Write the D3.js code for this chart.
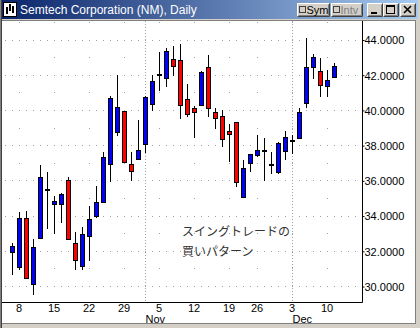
<!DOCTYPE html>
<html>
<head>
<meta charset="utf-8">
<script src="https://cdn.jsdelivr.net/npm/d3@7"></script>
<style>
  body { margin: 0; background: #d4d0c8; }
  svg { display: block; }
  .axis text { font-family: "Liberation Sans", Arial, sans-serif; font-size: 11px; fill: #000; }
</style>
</head>
<body>
<div id="chart"></div>
<script>

// Daily bars, Semtech Oct 5 - Dec 11 2001 (Thanksgiving skipped)
var dates = ["10/05","10/08","10/09","10/10","10/11","10/12","10/15","10/16","10/17","10/18",
  "10/19","10/22","10/23","10/24","10/25","10/26","10/29","10/30","10/31","11/01",
  "11/02","11/05","11/06","11/07","11/08","11/09","11/12","11/13","11/14","11/15",
  "11/16","11/19","11/20","11/21","11/23","11/26","11/27","11/28","11/29","11/30",
  "12/03","12/04","12/05","12/06","12/07","12/10","12/11"];

var opens  = [31.95,31.08,33.88,30.13,32.75,35.49,34.71,34.71,36.04,32.48,
  31.19,32.84,34.03,34.82,36.95,38.80,39.95,36.95,37.23,38.11,
  40.35,42.03,41.86,42.90,42.85,40.67,40.12,40.29,42.45,39.90,
  39.67,38.82,39.33,35.11,37.00,37.46,37.72,36.92,36.53,37.72,
  38.28,38.42,40.41,42.45,42.26,41.37,41.92];
var highs  = [32.48,34.24,34.30,32.71,36.91,36.51,35.15,35.33,36.22,33.10,
  33.39,34.58,35.71,37.64,40.82,42.01,39.98,37.63,39.46,40.80,
  42.01,43.30,43.55,43.66,43.77,41.50,40.25,42.22,43.15,40.12,
  40.03,39.23,39.35,37.17,37.51,38.59,38.42,37.63,38.21,38.84,
  38.59,40.12,44.11,43.21,42.96,42.30,42.69];
var lows   = [30.66,30.95,30.44,29.53,32.71,33.27,33.01,33.63,32.68,30.91,
  30.95,31.47,33.91,34.78,35.94,38.55,37.00,36.00,37.20,37.57,
  39.99,41.11,41.35,41.97,39.52,39.65,38.46,40.27,39.65,38.93,
  37.94,37.09,35.67,35.05,36.53,37.34,36.00,36.41,36.41,37.21,
  37.55,38.38,40.16,41.80,40.78,40.78,41.86];
var closes = [32.29,33.88,30.51,32.23,36.21,35.49,34.86,35.26,32.72,31.53,
  32.97,33.82,34.79,37.36,40.69,40.18,37.09,36.55,37.74,40.75,
  41.65,42.03,43.36,42.51,40.29,39.78,39.90,42.17,40.12,39.56,
  38.38,38.65,35.96,36.72,37.51,37.74,37.72,36.92,38.14,38.48,
  38.28,39.91,42.45,43.02,41.43,41.71,42.51];

// axis labels
var weekDates  = ["10/08","10/15","10/22","10/29","11/05","11/12","11/19","11/26","12/03","12/10"];
var weekLabels = ["8","15","22","29","5","12","19","26","3","10"];
var monthDates  = ["11/01","12/03"];
var monthLabels = ["Nov","Dec"];
var priceTicks = [30, 32, 34, 36, 38, 40, 42, 44];

var svgWidth = 420;
var svgHeight = 328;
var plot = { left: 2, top: 21, right: 362.5, bottom: 302.5 };

var svg = d3.select("#chart")
  .append("svg")
  .attr("width", svgWidth)
  .attr("height", svgHeight);

var x = d3.scalePoint()
  .domain(dates)
  .range([12.5, 334.5]);
var step = x.step();

var y = d3.scaleLinear()
  .domain([30, 44])
  .range([286.5, 40]);

// window frame
svg.append("rect").attr("width", svgWidth).attr("height", svgHeight).attr("fill", "#d4d0c8");
svg.append("rect").attr("x", 0).attr("y", 0).attr("width", 1).attr("height", svgHeight).attr("fill", "#808080");
svg.append("rect").attr("x", 1).attr("y", 0).attr("width", 1).attr("height", svgHeight).attr("fill", "#404040");
svg.append("rect")
  .attr("x", 2).attr("y", 20)
  .attr("width", 413).attr("height", 303)
  .attr("fill", "#fff");
svg.append("line")
  .attr("x1", 2).attr("x2", 415).attr("y1", 20.5).attr("y2", 20.5)
  .attr("stroke", "#808080");
svg.append("line")
  .attr("x1", 2).attr("x2", 416).attr("y1", 323.5).attr("y2", 323.5)
  .attr("stroke", "#808080");
svg.append("line")
  .attr("x1", 415.5).attr("x2", 415.5).attr("y1", 20).attr("y2", 324)
  .attr("stroke", "#808080");

// title bar
var grad = svg.append("defs").append("linearGradient").attr("id", "tb");
grad.append("stop").attr("offset", "0%").attr("stop-color", "#0a246a");
grad.append("stop").attr("offset", "100%").attr("stop-color", "#a6caf0");
svg.append("rect")
  .attr("x", 2).attr("y", 0)
  .attr("width", 416).attr("height", 19)
  .attr("fill", "url(#tb)");

// little window icon
var icon = svg.append("g").attr("transform", "translate(3,2)");
icon.append("rect").attr("width", 14).attr("height", 15).attr("fill", "#000");
icon.append("rect").attr("x", 1).attr("y", 1).attr("width", 12).attr("height", 13).attr("fill", "#fff");
[[3, 5, 12], [6, 2, 9], [9, 4, 11]].forEach(function(b) {
  icon.append("rect").attr("x", b[0]).attr("y", b[1]).attr("width", 2).attr("height", b[2] - b[1]).attr("fill", "#000");
});

svg.append("text")
  .attr("x", 20).attr("y", 14)
  .attr("font-family", "Liberation Sans, Arial, sans-serif")
  .attr("font-size", "12px")
  .attr("fill", "#fff")
  .text("Semtech Corporation (NM), Daily");

// raised Win2k buttons
function button(x0, w, label, grey, box) {
  var g = svg.append("g").attr("transform", `translate(${x0},3)`);
  g.append("rect").attr("width", w).attr("height", 14).attr("fill", "#d4d0c8");
  g.append("path").attr("d", `M0.5,13.5V0.5H${w - 0.5}`).attr("stroke", "#fff").attr("fill", "none");
  g.append("path").attr("d", `M0.5,13.5H${w - 0.5}V0.5`).attr("stroke", "#404040").attr("fill", "none");
  g.append("path").attr("d", `M1.5,12.5H${w - 1.5}V1.5`).attr("stroke", "#808080").attr("fill", "none");
  var tx = 3;
  if (box) {
    g.append("rect").attr("x", 2.5).attr("y", 3.5).attr("width", 6).attr("height", 6)
      .attr("fill", "#d4d0c8").attr("stroke", "#404040");
    tx = 9.5;
  }
  if (label) {
    g.append("text")
      .attr("x", tx).attr("y", 11)
      .attr("font-family", "Liberation Sans, Arial, sans-serif")
      .attr("font-size", "11px")
      .attr("fill", grey ? "#808080" : "#000")
      .text(label);
  }
  return g;
}
button(297, 33, "Sym", false, true);
button(331, 32, "Intv", true, true);
var bMin = button(367, 16);
bMin.append("rect").attr("x", 4).attr("y", 9).attr("width", 6).attr("height", 2).attr("fill", "#000");
var bMax = button(383, 16);
bMax.append("rect").attr("x", 3.5).attr("y", 2.5).attr("width", 8).attr("height", 8)
  .attr("fill", "none").attr("stroke", "#000");
bMax.append("rect").attr("x", 3).attr("y", 2).attr("width", 9).attr("height", 2).attr("fill", "#000");
var bClose = button(400, 16);
bClose.append("path").attr("d", "M4,3L11,10M11,3L4,10").attr("stroke", "#000").attr("stroke-width", 1.6);

// dotted grid: every bar on even prices, Mondays only on odd prices
var gridGroup = svg.append("g").attr("fill", "#a0a0a0");
var x0 = x(dates[0]);
d3.range(30, 46).forEach(function(v) {
  var yy = Math.floor(y(v));
  var cols = [];
  if (v % 2 === 0) {
    cols = d3.range(-1, 50).map(function(k) { return x0 + k * step; });
  } else {
    cols = weekDates.map(function(d) { return x(d); });
  }
  cols.forEach(function(cx) {
    if (cx > plot.left && cx < plot.right - 2) {
      gridGroup.append("rect").attr("x", Math.floor(cx)).attr("y", yy).attr("width", 1).attr("height", 1);
    }
  });
});

// month separators
svg.selectAll(".month-line")
  .data(monthDates)
  .enter()
  .append("line")
  .attr("x1", d => x(d)).attr("x2", d => x(d))
  .attr("y1", plot.top).attr("y2", plot.bottom)
  .attr("stroke", "#a0a0a0")
  .attr("stroke-dasharray", "1,2");

// axes frame lines
svg.append("line")
  .attr("x1", plot.left).attr("x2", plot.right)
  .attr("y1", plot.bottom).attr("y2", plot.bottom)
  .attr("stroke", "#000");
svg.append("line")
  .attr("x1", plot.right).attr("x2", plot.right)
  .attr("y1", plot.top).attr("y2", plot.bottom)
  .attr("stroke", "#000");

// right price axis
var rightAxis = d3.axisRight(y)
  .tickValues(priceTicks)
  .tickFormat(d3.format(".4f"))
  .tickSize(2)
  .tickPadding(0);
var yAxis = svg.append("g")
  .attr("class", "axis")
  .attr("transform", `translate(${plot.right},0)`)
  .call(rightAxis);
yAxis.select(".domain").remove();
yAxis.selectAll("text").attr("dy", "0.35em");

// bottom date axis
var bottomAxis = d3.axisBottom(x)
  .tickValues(weekDates)
  .tickFormat((d, i) => weekLabels[i])
  .tickSize(0)
  .tickPadding(2);
var xAxis = svg.append("g")
  .attr("class", "axis")
  .attr("transform", `translate(0,${plot.bottom})`)
  .call(bottomAxis);
xAxis.select(".domain").remove();
xAxis.selectAll("text").attr("dx", "-1");

svg.selectAll(".month-label")
  .data(monthDates)
  .enter()
  .append("text")
  .attr("class", "month-label")
  .attr("x", d => x(d))
  .attr("y", 323)
  .attr("font-family", "Liberation Sans, Arial, sans-serif")
  .attr("font-size", "11px")
  .text((d, i) => monthLabels[i]);

// candlesticks
var bars = dates.map(function(d, i) {
  return { date: d, open: opens[i], high: highs[i], low: lows[i], close: closes[i] };
});

var candles = svg.append("g")
  .selectAll("g")
  .data(bars)
  .enter()
  .append("g");

candles.append("line")
  .attr("x1", d => x(d.date)).attr("x2", d => x(d.date))
  .attr("y1", d => Math.round(y(d.high))).attr("y2", d => Math.round(y(d.low)))
  .attr("stroke", "#000");

candles.filter(d => d.open !== d.close)
  .append("rect")
  .attr("x", d => x(d.date) - 2)
  .attr("y", d => Math.round(y(Math.max(d.open, d.close))) + 0.5)
  .attr("width", 4)
  .attr("height", d => Math.max(1, Math.round(y(Math.min(d.open, d.close))) - Math.round(y(Math.max(d.open, d.close)))))
  .attr("fill", d => d.close > d.open ? "#0000ff" : "#ff0000")
  .attr("stroke", "#000");

candles.filter(d => d.open === d.close)
  .append("rect")
  .attr("x", d => x(d.date) - 2.5)
  .attr("y", d => Math.round(y(d.close)) - 1)
  .attr("width", 5)
  .attr("height", 2)
  .attr("fill", "#000");

// note text
var note = svg.append("g")
  .attr("font-family", "Noto Sans CJK JP, sans-serif")
  .attr("font-size", "12px")
  .attr("fill", "#333");
note.append("text").attr("x", 182).attr("y", 236).text("スイングトレードの");
note.append("text").attr("x", 182).attr("y", 256).text("買いパターン");

</script>
</body>
</html>
